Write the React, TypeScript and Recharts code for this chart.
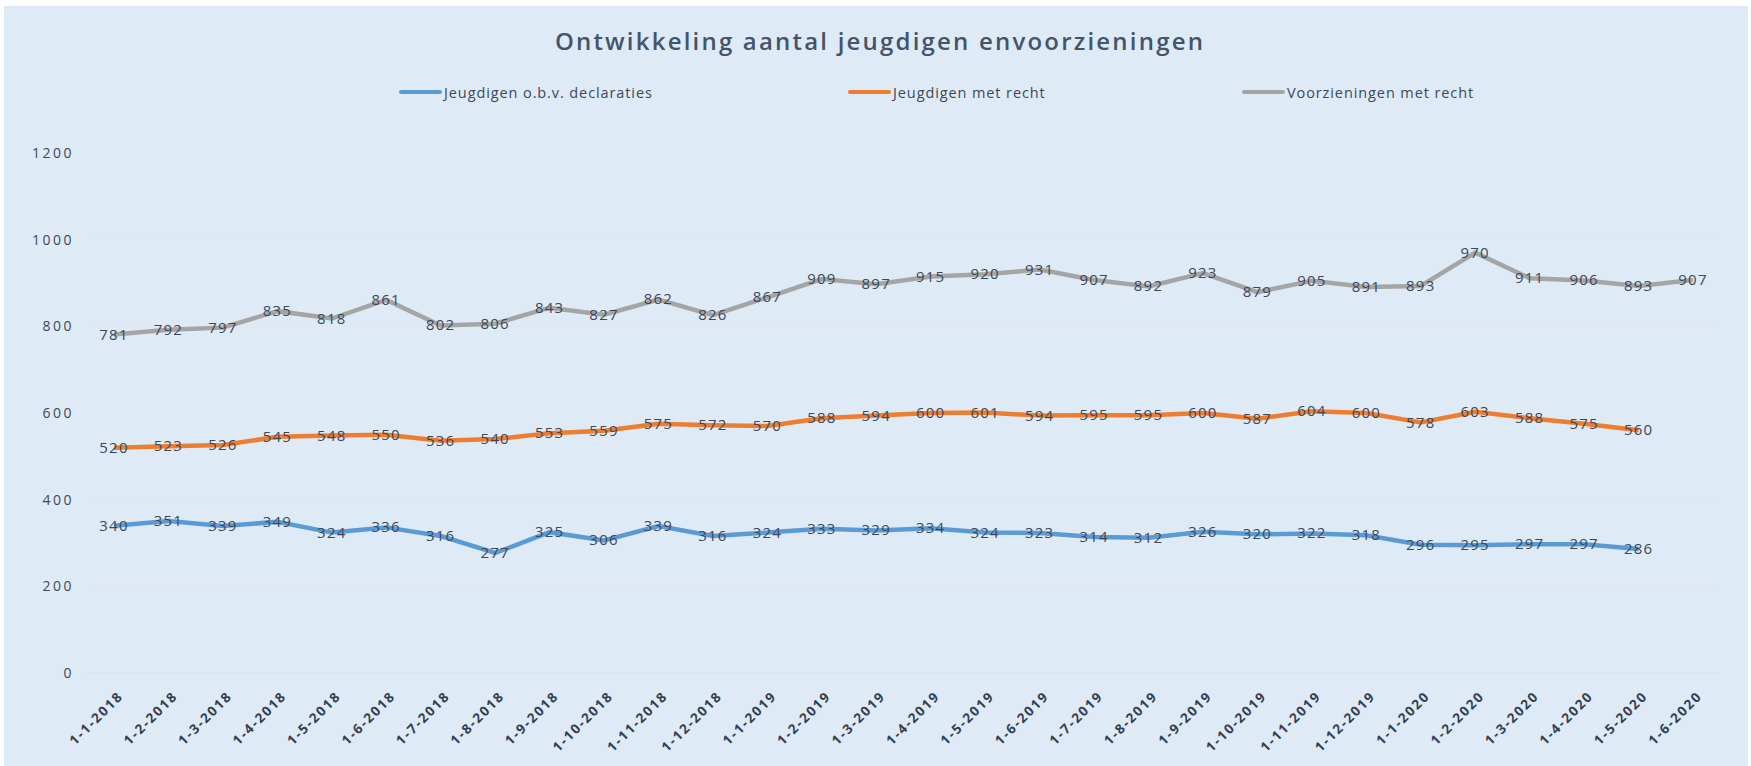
import React from 'react';
import { LineChart, Line, XAxis, YAxis, CartesianGrid, Legend } from 'recharts';

const months = [
  '1-1-2018', '1-2-2018', '1-3-2018', '1-4-2018', '1-5-2018', '1-6-2018',
  '1-7-2018', '1-8-2018', '1-9-2018', '1-10-2018', '1-11-2018', '1-12-2018',
  '1-1-2019', '1-2-2019', '1-3-2019', '1-4-2019', '1-5-2019', '1-6-2019',
  '1-7-2019', '1-8-2019', '1-9-2019', '1-10-2019', '1-11-2019', '1-12-2019',
  '1-1-2020', '1-2-2020', '1-3-2020', '1-4-2020', '1-5-2020', '1-6-2020',
];

const declaraties = [
  340, 351, 339, 349, 324, 336, 316, 277, 325, 306, 339, 316,
  324, 333, 329, 334, 324, 323, 314, 312, 326, 320, 322, 318,
  296, 295, 297, 297, 286, null,
];

const jeugdigenMetRecht = [
  520, 523, 526, 545, 548, 550, 536, 540, 553, 559, 575, 572,
  570, 588, 594, 600, 601, 594, 595, 595, 600, 587, 604, 600,
  578, 603, 588, 575, 560, null,
];

const voorzieningenMetRecht = [
  781, 792, 797, 835, 818, 861, 802, 806, 843, 827, 862, 826,
  867, 909, 897, 915, 920, 931, 907, 892, 923, 879, 905, 891,
  893, 970, 911, 906, 893, 907,
];

const yTicks = [0, 200, 400, 600, 800, 1000, 1200];

const seriesNames = ['Jeugdigen o.b.v. declaraties', 'Jeugdigen met recht', 'Voorzieningen met recht'];

const data = months.map((month, i) => ({
  month,
  declaraties: declaraties[i],
  jeugdigen: jeugdigenMetRecht[i],
  voorzieningen: voorzieningenMetRecht[i],
}));

const FONT = '"Open Sans", sans-serif';
const TEXT = '#3E4756';
const legendLeft = [395, 844, 1238];

const ValueLabel = (props: any) => {
  const { x, y, value } = props;
  if (value == null) return null;
  return (
    <text x={x} y={y} dy={5} textAnchor="middle" fontSize={15} fill={TEXT}
      fontFamily={FONT} letterSpacing={1.2}>
      {value}
    </text>
  );
};

const MonthTick = ({ x, y, payload }: any) => (
  <g transform={`translate(${x + 10},${y + 16}) rotate(-45)`}>
    <text x={0} y={0} textAnchor="end" fontSize={13.5} fontWeight={700}
      fill="#333F50" fontFamily={FONT} letterSpacing={1.8}>
      {payload.value}
    </text>
  </g>
);

const LegendContent = ({ payload }: any) => {
  const items = [...(payload || [])].sort(
    (a: any, b: any) => seriesNames.indexOf(a.value) - seriesNames.indexOf(b.value));
  return (
    <div style={{ position: 'relative', width: 1744, height: 20 }}>
      {items.map((p: any, i: number) => (
        <div key={p.value} style={{
          position: 'absolute', left: legendLeft[i], top: 0, height: 20,
          display: 'flex', alignItems: 'center',
        }}>
          <span style={{ width: 43, height: 4, background: p.color, borderRadius: 2 }} />
          <span style={{ marginLeft: 2, fontSize: 14.5, color: TEXT, fontFamily: FONT, letterSpacing: 0.9 }}>
            {p.value}
          </span>
        </div>
      ))}
    </div>
  );
};

export default function App() {
  return (
    <div style={{ position: 'absolute', left: 4, top: 6, width: 1744, height: 760, background: '#DEEBF7' }}>
      <svg width={1744} height={60} style={{ position: 'absolute', left: 0, top: 0 }}>
        <text x={876} y={44} textAnchor="middle" fontSize={24} fontWeight={600}
          fill="#44546A" fontFamily={FONT} letterSpacing={2.2}>
          Ontwikkeling aantal jeugdigen envoorzieningen
        </text>
      </svg>
      <LineChart width={1744} height={760} data={data}
        margin={{ top: 147, right: 28, left: 0, bottom: 0 }}>
        <CartesianGrid vertical={false} stroke="#E4E8EE" strokeWidth={1.2} />
        <XAxis dataKey="month" height={93} interval={0} tickLine={false}
          padding={{ left: 27, right: 27 }}
          axisLine={{ stroke: '#D9DEE5' }} tick={<MonthTick />} />
        <YAxis width={83} domain={[0, 1200]} ticks={yTicks} tickLine={false} axisLine={false}
          tickMargin={7} tick={{ fontSize: 14, fill: TEXT, fontFamily: FONT, letterSpacing: 2.5 }} />
        <Legend verticalAlign="middle" layout="horizontal" align="center"
          wrapperStyle={{ top: 76, left: 0, width: 1744, height: 20 }}
          content={<LegendContent />} />
        <Line dataKey="declaraties" name={seriesNames[0]} stroke="#5B9BD5"
          strokeWidth={4.5} dot={false} isAnimationActive={false} label={ValueLabel} />
        <Line dataKey="jeugdigen" name={seriesNames[1]} stroke="#ED7D31"
          strokeWidth={4.5} dot={false} isAnimationActive={false} label={ValueLabel} />
        <Line dataKey="voorzieningen" name={seriesNames[2]} stroke="#A5A5A5"
          strokeWidth={4.5} dot={false} isAnimationActive={false} label={ValueLabel} />
      </LineChart>
    </div>
  );
}
